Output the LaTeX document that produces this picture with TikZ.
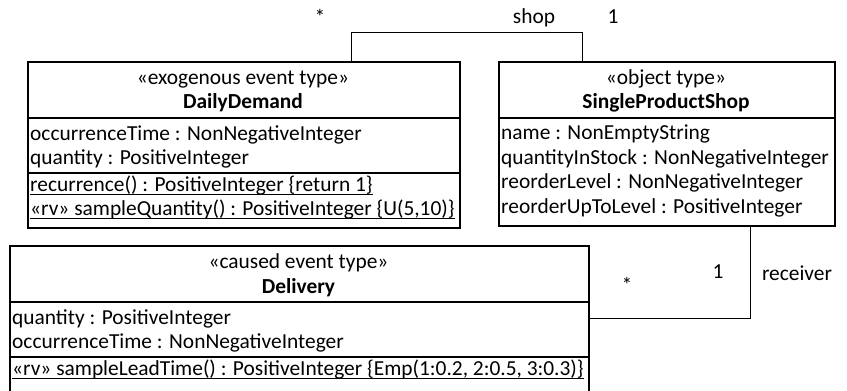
\documentclass[tikz,border=0pt]{standalone}
\usepackage{fontspec}
\setmainfont{Carlito}
\newcommand\myul[1]{\setbox0\hbox{#1}\rlap{\rule[-4pt]{\wd0}{1pt}}\box0}
\tikzset{
  umlbox/.style={draw, line width=1.5pt, inner sep=0pt, anchor=north west},
  sepline/.style={line width=1.3pt},
  conn/.style={line width=1pt},
  txt/.style={inner sep=0pt, anchor=base west, font=\fontsize{21.4}{25}\selectfont},
  ctxt/.style={inner sep=0pt, anchor=base, font=\fontsize{21.4}{25}\selectfont},
  btxt/.style={inner sep=0pt, anchor=base, font=\fontsize{21.4}{25}\selectfont\bfseries},
  lbl/.style={inner sep=0pt, anchor=center, font=\fontsize{21.4}{25}\selectfont}
}
\begin{document}
\begin{tikzpicture}[x=1pt,y=-1pt]
\useasboundingbox (0,0) rectangle (847,391);
% DailyDemand
\node[umlbox, minimum width=432pt, minimum height=166pt] (dd) at (27,61) {};
\draw[sepline] (27,118) -- (459,118);
\draw[sepline] (27,173) -- (459,173);
\node[ctxt] (ddst) at (243,84) {«exogenous event type»};
\node[btxt] (ddnm) at (243,108) {DailyDemand};
\node[txt] (dda1) at (30,140) {occurrenceTime : NonNegativeInteger};
\node[txt] (dda2) at (30,164) {quantity : PositiveInteger};
\node[txt] (ddo1) at (30,191) {\myul{recurrence() : PositiveInteger \{return 1\}}};
\node[txt] (ddo2) at (30,215) {\myul{«rv» sampleQuantity() : PositiveInteger \{U(5,10)\}}};
% SingleProductShop
\node[umlbox, minimum width=336pt, minimum height=164pt] (sps) at (498,61) {};
\draw[sepline] (498,118) -- (834,118);
\node[ctxt] (spsst) at (666,84) {«object type»};
\node[btxt] (spsnm) at (666,108) {SingleProductShop};
\node[txt] (spsa1) at (501,139) {name : NonEmptyString};
\node[txt] (spsa2) at (501,164) {quantityInStock : NonNegativeInteger};
\node[txt] (spsa3) at (501,188) {reorderLevel : NonNegativeInteger};
\node[txt] (spsa4) at (501,213) {reorderUpToLevel : PositiveInteger};
% Delivery
\node[umlbox, minimum width=579pt, minimum height=150pt] (del) at (9,245) {};
\draw[sepline] (9,302) -- (588,302);
\draw[sepline] (9,357) -- (588,357);
\node[ctxt] (delst) at (298.5,268) {«caused event type»};
\node[btxt] (delnm) at (298.5,293) {Delivery};
\node[txt] (dela1) at (12,324) {quantity : PositiveInteger};
\node[txt] (dela2) at (12,348) {occurrenceTime : NonNegativeInteger};
\node[txt] (delo1) at (12,375) {\myul{«rv» sampleLeadTime() : PositiveInteger \{Emp(1:0.2, 2:0.5, 3:0.3)\}}};
% connectors
\draw[conn] ([xshift=324pt]dd.north west) -- ++(0,-29) -| ([xshift=84pt]sps.north west);
\draw[conn] ([yshift=-73pt]del.north east) -| ([xshift=252pt]sps.south west);
% labels
\node[lbl] (m1) at (320,17) {*};
\node[lbl] (r1) at (534,18) {shop};
\node[lbl] (m2) at (613,17) {1};
\node[lbl] (m3) at (627,285) {*};
\node[lbl] (m4) at (718,272) {1};
\node[lbl] (r2) at (797,273) {receiver};
\end{tikzpicture}
\end{document}
